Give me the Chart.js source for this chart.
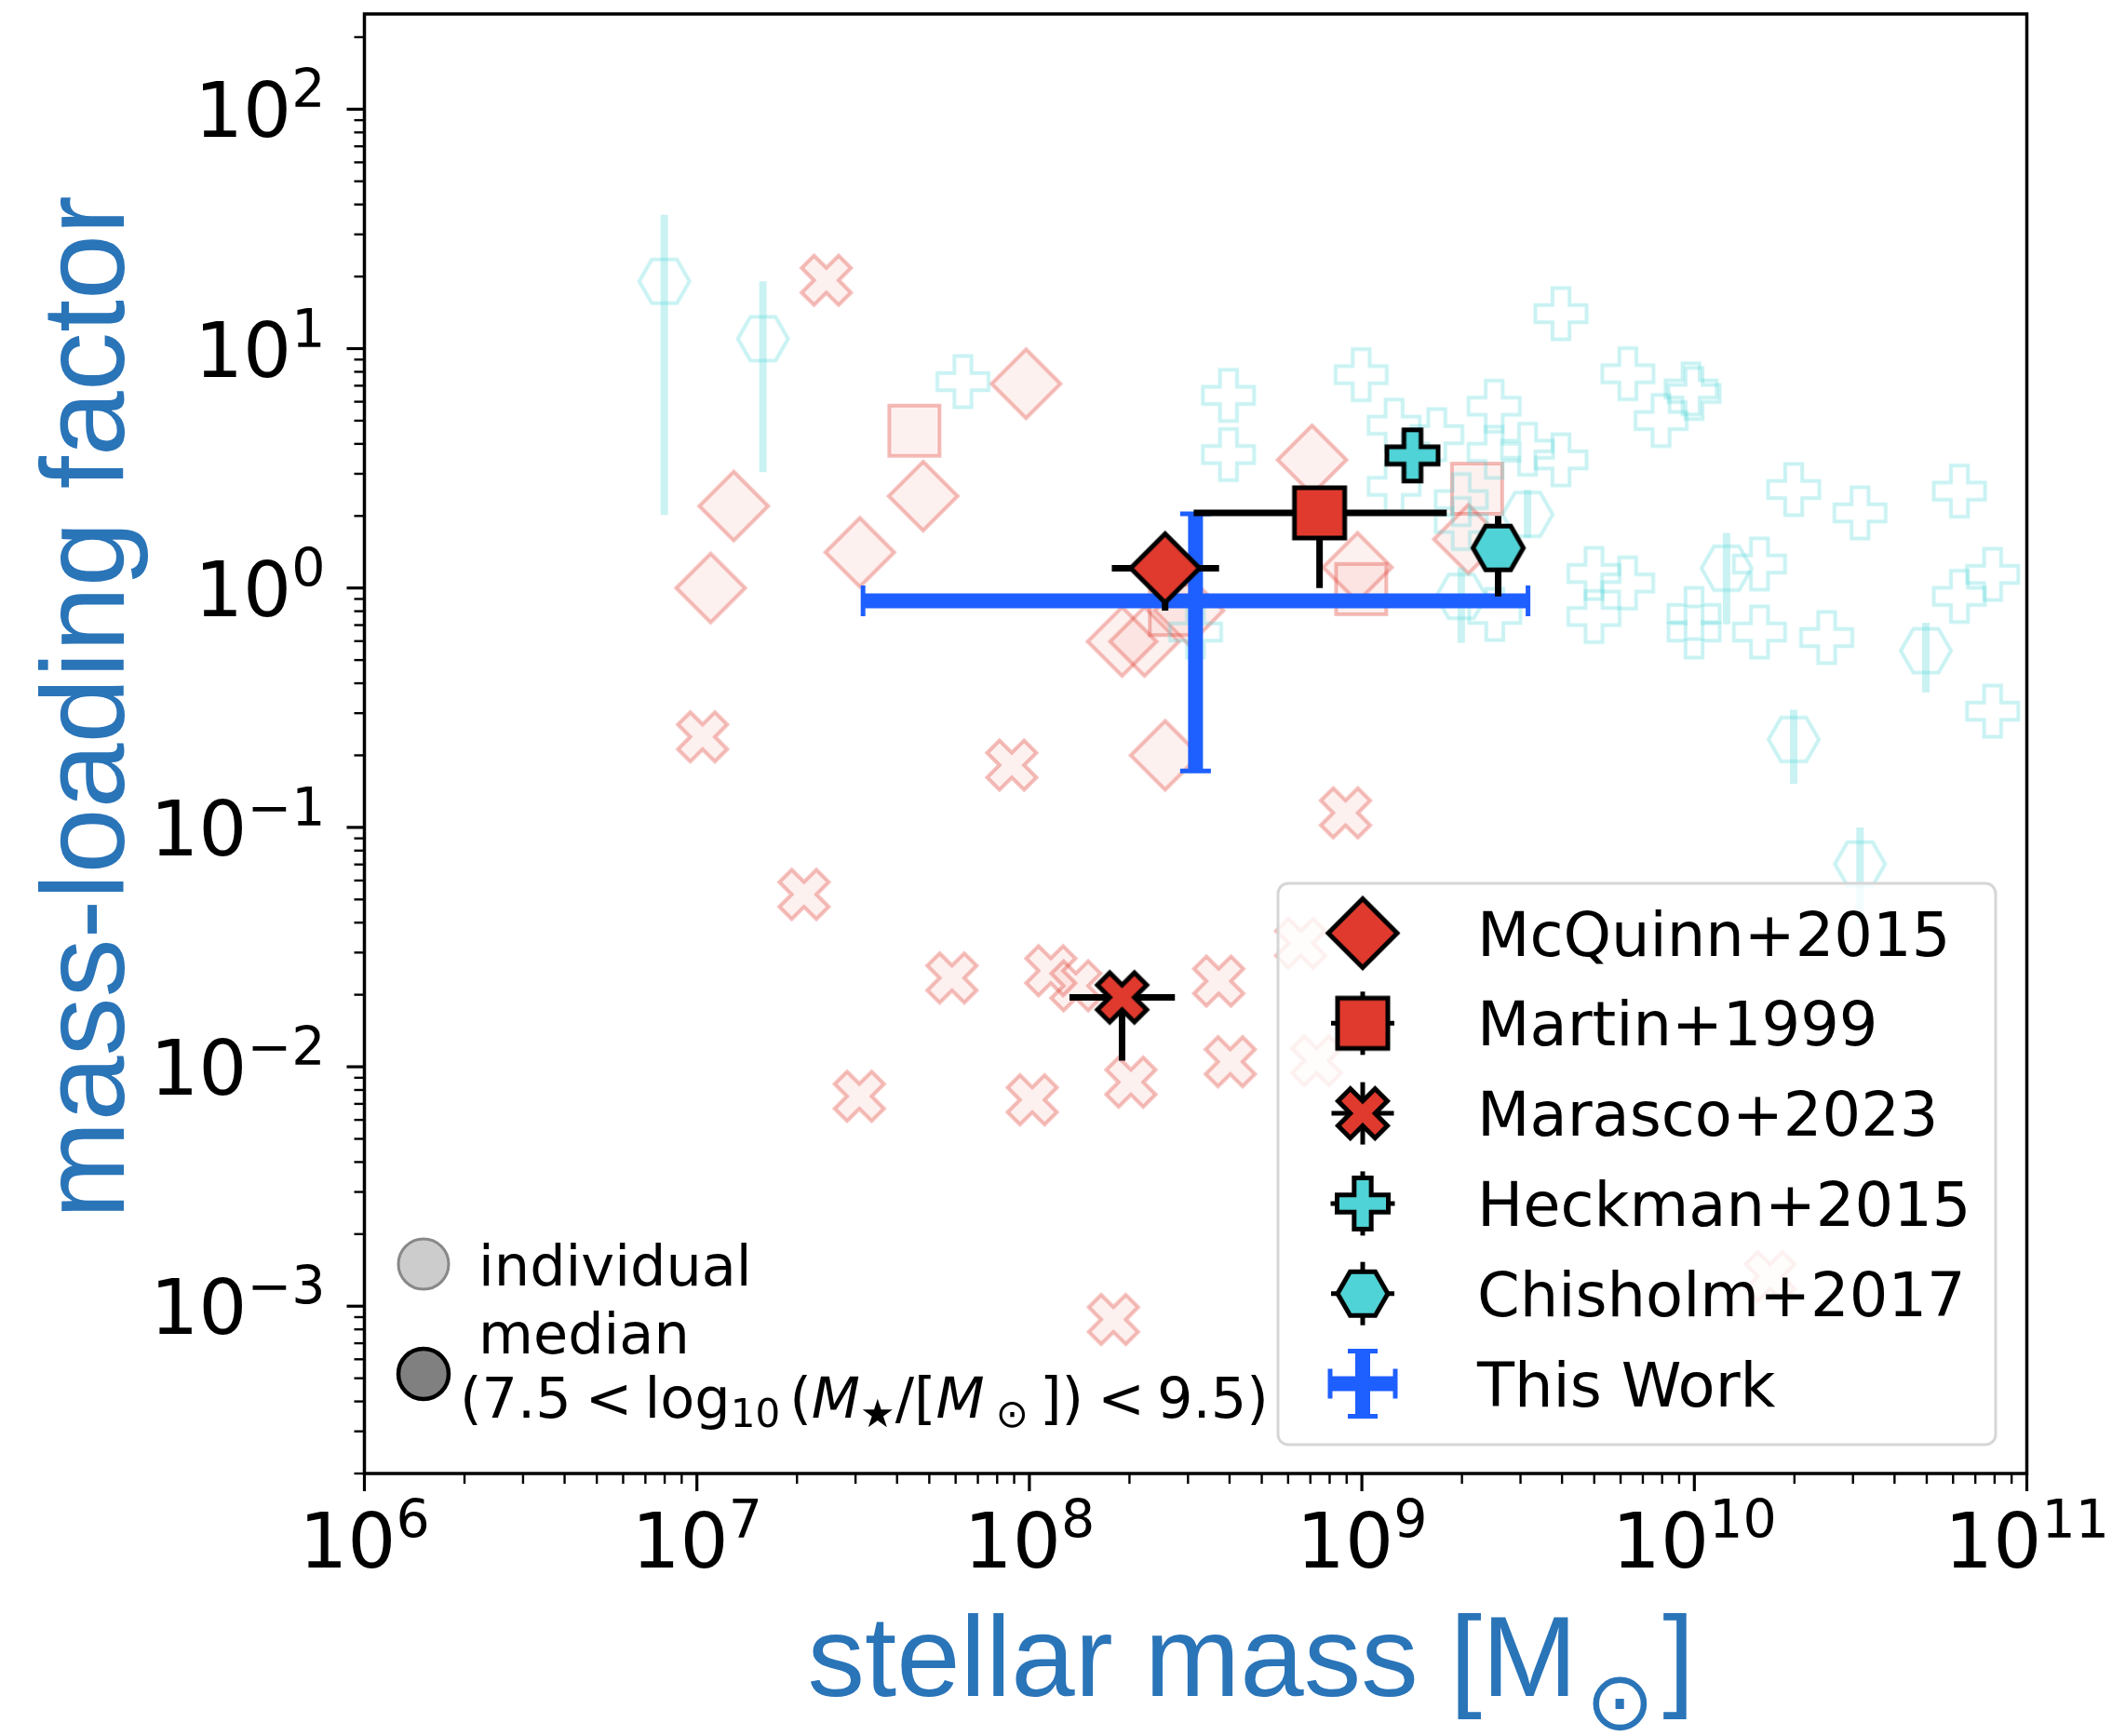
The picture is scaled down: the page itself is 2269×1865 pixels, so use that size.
<!DOCTYPE html>
<html lang="en">
<head>
<meta charset="utf-8">
<title>Mass-loading factor vs stellar mass</title>
<script src="https://cdn.jsdelivr.net/npm/chart.js@4.4.1/dist/chart.umd.min.js"></script>
<style>
  html, body { margin: 0; padding: 0; background: #fff; }
  canvas { display: block; }
</style>
</head>
<body>
<canvas id="chartCanvas" width="2269" height="1865"></canvas>
<script>
"use strict";

// ---- stellar mass [Msun] / mass-loading factor, one pair of arrays per sample ----

// McQuinn+2015 individual galaxies
const mcquinnMass = [1.10e7, 1.29e7, 3.09e7, 4.79e7, 9.77e7, 7.08e8, 9.70e8, 1.90e8, 2.22e8, 2.56e8, 3.02e8, 2.09e9];
const mcquinnEta = [1.00, 2.20, 1.41, 2.42, 7.13, 3.43, 1.22, 0.598, 0.598, 0.200, 0.805, 1.60];

// Martin+1999
const martinMass = [4.51e7, 2.74e8, 9.95e8, 2.22e9];
const martinEta = [4.54, 0.81, 0.99, 2.60];

// Marasco+2023
const marascoMass = [2.45e7, 1.04e7, 8.85e7, 2.10e7, 5.85e7, 1.16e8, 1.38e8, 3.71e8, 3.08e7,
  1.02e8, 2.02e8, 4.02e8, 8.93e8, 1.79e8, 6.55e8, 7.31e8, 1.69e10];
const marascoEta = [19.3, 0.239, 0.182, 0.0525, 0.0235, 0.0252, 0.0218, 0.0228, 0.00753,
  0.00728, 0.00863, 0.0105, 0.115, 0.00088, 0.0328, 0.0106, 0.00133];

// Heckman+2015
const heckmanMass = [6.31e7, 3.97e8, 3.97e8, 3.16e8, 9.95e8, 1.25e9, 1.68e9, 1.25e9, 2.50e9,
  2.50e9, 3.15e9, 3.97e9, 1.99e9, 1.99e9, 2.51e9, 3.97e9, 6.31e9, 7.94e9, 9.98e9, 9.77e9,
  4.99e9, 6.30e9, 4.99e9, 1.99e10, 3.15e10, 6.27e10, 7.89e10, 6.27e10, 7.89e10, 1.57e10,
  1.57e10, 9.98e9, 9.98e9, 2.50e10];
const heckmanEta = [7.28, 6.38, 3.61, 0.655, 7.78, 4.79, 4.37, 2.66, 5.75,
  3.69, 3.80, 3.43, 2.34, 1.86, 0.776, 14.0, 7.85, 5.01, 6.50, 6.79,
  1.15, 1.05, 0.760, 2.58, 2.06, 2.54, 1.14, 0.923, 0.306, 1.26,
  0.655, 0.783, 0.655, 0.621];

// Chisholm+2017, with lower / upper bounds on eta
const chisholmMass = [7.98e6, 1.58e7, 3.15e9, 1.99e9, 1.25e10, 4.97e10, 1.99e10, 3.15e10];
const chisholmEta = [19.1, 11.0, 2.03, 0.923, 1.21, 0.547, 0.233, 0.0703];
const chisholmEtaLow = [2.02, 3.05, 1.62, 0.589, 0.705, 0.366, 0.152, 0.040];
const chisholmEtaHigh = [36.2, 19.1, 2.57, 1.22, 1.70, 0.716, 0.310, 0.100];

// medians of each sample for 7.5 < log10(M*) < 9.5
const medianLabels = ["McQuinn+2015", "Martin+1999", "Marasco+2023", "Heckman+2015", "Chisholm+2017"];
const medianMass = [2.56e8, 7.46e8, 1.90e8, 1.42e9, 2.57e9];
const medianMassLow = [1.77e8, 3.12e8, 1.32e8, 1.33e9, 2.45e9];
const medianMassHigh = [3.72e8, 1.80e9, 2.74e8, 1.52e9, 2.70e9];
const medianEta = [1.21, 2.06, 0.0195, 3.58, 1.47];
const medianEtaLow = [0.805, 1.00, 0.0106, 3.35, 0.923];
const medianEtaHigh = [1.55, 2.50, 0.022, 3.85, 2.00];

// this work
const thisWorkMass = [3.16e8];
const thisWorkMassLow = [3.16e7];
const thisWorkMassHigh = [3.16e9];
const thisWorkEta = [0.884];
const thisWorkEtaLow = [0.172];
const thisWorkEtaHigh = [2.04];

// axis ticks
const xTickValues = [1e6, 1e7, 1e8, 1e9, 1e10, 1e11];
const xTickExponents = ["6", "7", "8", "9", "10", "11"];
const yTickValues = [1e-3, 1e-2, 1e-1, 1e0, 1e1, 1e2];
const yTickExponents = ["\u22123", "\u22122", "\u22121", "0", "1", "2"];

// ---- styles ----
const RED = "rgb(224, 58, 46)";
const CYAN = "rgb(80, 211, 214)";
const BLUE = "rgb(30, 95, 255)";
const RED_EDGE = "rgba(224, 58, 46, 0.34)";
const RED_FACE = "rgba(224, 58, 46, 0.07)";
const CYAN_EDGE = "rgba(80, 211, 214, 0.3)";
const TITLE_BLUE = "#2a74b8";
const SANS = '"DejaVu Sans"';
const TITLE_FONT = '"Liberation Sans"';

const medianShapes = ["diamond", "square", "x", "plus", "hexagon"];
const medianFaces = [RED, RED, RED, CYAN, CYAN];

// half-extent of each marker path, px
const markerHalf = { diamond: 37, square: 27, x: 26.5, plus: 27.5, hexagon: 27 };

let medianMarkers = [];

function tracePath(g, shape, h) {
  g.beginPath();
  let pts = [];
  if (shape === "diamond") {
    pts = [[0, -h], [h, 0], [0, h], [-h, 0]];
  } else if (shape === "square") {
    pts = [[-h, -h], [h, -h], [h, h], [-h, h]];
  } else if (shape === "plus") {
    const a = h / 3;
    pts = [[-a, -h], [a, -h], [a, -a], [h, -a], [h, a], [a, a], [a, h], [-a, h], [-a, a], [-h, a], [-h, -a], [-a, -a]];
  } else if (shape === "x") {
    const u = h / 2;
    pts = [[-1, -2], [0, -1], [1, -2], [2, -1], [1, 0], [2, 1], [1, 2], [0, 1], [-1, 2], [-2, 1], [-1, 0], [-2, -1]]
      .map(([px, py]) => [px * u, py * u]);
  } else if (shape === "hexagon") {
    for (let i = 0; i < 6; i++) {
      const t = i * Math.PI / 3;
      pts.push([h * Math.cos(t), h * Math.sin(t)]);
    }
  }
  pts.forEach(([px, py], i) => (i ? g.lineTo(px, py) : g.moveTo(px, py)));
  g.closePath();
}

// pre-rendered marker used as a Chart.js pointStyle
function makeMarker(shape, face, edge, lineWidth) {
  const h = markerHalf[shape];
  const size = 2 * Math.ceil(h + lineWidth * 1.5 + 3);
  const c = document.createElement("canvas");
  c.width = size;
  c.height = size;
  const g = c.getContext("2d");
  g.translate(size / 2, size / 2);
  g.lineJoin = "miter";
  tracePath(g, shape, h);
  if (face) {
    g.fillStyle = face;
    g.fill();
  }
  g.lineWidth = lineWidth;
  g.strokeStyle = edge;
  g.stroke();
  return c;
}

function toPoints(xs, ys) {
  return xs.map((x, i) => ({ x, y: ys[i] }));
}

function segment(ctx, x0, y0, x1, y1) {
  ctx.beginPath();
  ctx.moveTo(x0, y0);
  ctx.lineTo(x1, y1);
  ctx.stroke();
}

// error bars drawn just under each dataset's markers
const errorBarPlugin = {
  id: "errorBars",
  beforeDatasetDraw(chart, args) {
    const ds = chart.data.datasets[args.index];
    const eb = ds.errorBars;
    if (!eb) return;
    const { ctx, chartArea: area, scales: { x, y } } = chart;
    ctx.save();
    ctx.beginPath();
    ctx.rect(area.left, area.top, area.right - area.left, area.bottom - area.top);
    ctx.clip();
    ctx.strokeStyle = eb.color;
    ctx.lineCap = "butt";
    ds.data.forEach((p, i) => {
      const px = x.getPixelForValue(p.x);
      const py = y.getPixelForValue(p.y);
      ctx.lineWidth = eb.width;
      let xl, xh, yl, yh;
      if (eb.xLow) {
        xl = x.getPixelForValue(eb.xLow[i]);
        xh = x.getPixelForValue(eb.xHigh[i]);
        segment(ctx, xl, py, xh, py);
      }
      if (eb.yLow) {
        yl = y.getPixelForValue(eb.yLow[i]);
        yh = y.getPixelForValue(eb.yHigh[i]);
        segment(ctx, px, yl, px, yh);
      }
      if (eb.cap) {
        const c = eb.cap / 2;
        ctx.lineWidth = eb.capWidth;
        if (eb.xLow) {
          segment(ctx, xl, py - c, xl, py + c);
          segment(ctx, xh, py - c, xh, py + c);
        }
        if (eb.yLow) {
          segment(ctx, px - c, yl, px + c, yl);
          segment(ctx, px - c, yh, px + c, yh);
        }
      }
    });
    ctx.restore();
  }
};

function minorTickValues(scale) {
  const out = [];
  const lo = Math.floor(Math.log10(scale.min));
  const hi = Math.ceil(Math.log10(scale.max));
  for (let e = lo; e <= hi; e++) {
    for (let m = 2; m <= 9; m++) {
      const v = m * Math.pow(10, e);
      if (v >= scale.min * 0.999 && v <= scale.max * 1.001) out.push(v);
    }
  }
  return out;
}

const TICK_SIZE = 82;
const SUP_SIZE = 57;

function drawPower(ctx, exponent, x, baseline, align) {
  ctx.font = `${TICK_SIZE}px ${SANS}`;
  const wBase = ctx.measureText("10").width;
  ctx.font = `${SUP_SIZE}px ${SANS}`;
  const wExp = ctx.measureText(exponent).width;
  const total = wBase + wExp;
  const left = align === "center" ? x - total / 2 : x - total;
  ctx.textAlign = "left";
  ctx.textBaseline = "alphabetic";
  ctx.font = `${TICK_SIZE}px ${SANS}`;
  ctx.fillText("10", left, baseline);
  ctx.font = `${SUP_SIZE}px ${SANS}`;
  ctx.fillText(exponent, left + wBase, baseline - 32);
}

// spines, log ticks, tick labels and axis titles
const axesFramePlugin = {
  id: "axesFrame",
  afterDatasetsDraw(chart) {
    const { ctx, chartArea: a, scales: { x, y } } = chart;
    ctx.save();
    ctx.strokeStyle = "#000";
    ctx.lineCap = "butt";

    ctx.lineWidth = 2.4;
    minorTickValues(x).forEach(v => {
      const p = x.getPixelForValue(v);
      segment(ctx, p, a.bottom, p, a.bottom + 11);
    });
    minorTickValues(y).forEach(v => {
      const p = y.getPixelForValue(v);
      segment(ctx, a.left, p, a.left - 11, p);
    });

    ctx.lineWidth = 3.2;
    xTickValues.forEach(v => {
      const p = x.getPixelForValue(v);
      segment(ctx, p, a.bottom, p, a.bottom + 19);
    });
    yTickValues.forEach(v => {
      const p = y.getPixelForValue(v);
      segment(ctx, a.left, p, a.left - 19, p);
    });

    ctx.lineWidth = 3.5;
    ctx.strokeRect(a.left, a.top, a.right - a.left, a.bottom - a.top);

    ctx.fillStyle = "#000";
    xTickValues.forEach((v, i) => {
      drawPower(ctx, xTickExponents[i], x.getPixelForValue(v), a.bottom + 101, "center");
    });
    yTickValues.forEach((v, i) => {
      drawPower(ctx, yTickExponents[i], a.left - 42, y.getPixelForValue(v) + 30, "right");
    });

    // y title
    ctx.fillStyle = TITLE_BLUE;
    ctx.font = `126px ${TITLE_FONT}`;
    ctx.save();
    ctx.translate(133, a.top + (a.bottom - a.top) * 0.475);
    ctx.rotate(-Math.PI / 2);
    ctx.textAlign = "center";
    ctx.fillText("mass-loading factor", 0, 0);
    ctx.restore();

    // x title with a subscript sun symbol
    const mainFont = `123px ${TITLE_FONT}`;
    const subFont = `88px ${SANS}`;
    ctx.font = mainFont;
    const w1 = ctx.measureText("stellar mass [M").width;
    const w3 = ctx.measureText("]").width;
    ctx.font = subFont;
    const w2 = ctx.measureText("\u2299").width;
    const gap = 9;
    const total = w1 + gap + w2 + gap + w3;
    const cx = a.left + (a.right - a.left) * 0.5333;
    let left = cx - total / 2;
    const base = 1822;
    ctx.textAlign = "left";
    ctx.font = mainFont;
    ctx.fillText("stellar mass [M", left, base);
    left += w1 + gap;
    ctx.font = subFont;
    ctx.fillText("\u2299", left, base + 36);
    left += w2 + gap;
    ctx.font = mainFont;
    ctx.fillText("]", left, base);
    ctx.restore();
  }
};

function roundRect(ctx, x, y, w, h, r) {
  ctx.beginPath();
  ctx.moveTo(x + r, y);
  ctx.arcTo(x + w, y, x + w, y + h, r);
  ctx.arcTo(x + w, y + h, x, y + h, r);
  ctx.arcTo(x, y + h, x, y, r);
  ctx.arcTo(x, y, x + w, y, r);
  ctx.closePath();
}

const LEGEND_SIZE = 65.5;
const NOTE_SIZE = 60.5;

// parts of the second line of the "median" note
const rangeParts = [
  { t: "(7.5", f: "reg" },
  { t: "<", f: "reg", pad: 15 },
  { t: "log", f: "reg", pad: 13 },
  { t: "10", f: "sub" },
  { t: "(", f: "reg", pad: 10 },
  { t: "M", f: "ital" },
  { t: "\u2605", f: "sub" },
  { t: "/[", f: "reg" },
  { t: "M", f: "ital" },
  { t: "\u2299", f: "sub", pad: 12 },
  { t: "])", f: "reg", pad: 12 },
  { t: "<", f: "reg", pad: 15 },
  { t: "9.5)", f: "reg", pad: 13 }
];

const legendPlugin = {
  id: "sampleLegends",
  afterDraw(chart) {
    const ctx = chart.ctx;
    ctx.save();

    // sample legend (upper box)
    roundRect(ctx, 1373, 949, 771, 603, 11);
    ctx.fillStyle = "rgba(255, 255, 255, 0.8)";
    ctx.fill();
    ctx.lineWidth = 3;
    ctx.strokeStyle = "#d6d6d6";
    ctx.stroke();

    const mx = 1464;
    const rowY = i => 1002.5 + i * 96.8;
    const labels = medianLabels.concat(["This Work"]);
    labels.forEach((label, i) => {
      const cy = rowY(i);
      if (i < medianMarkers.length) {
        if (i > 0) {
          ctx.strokeStyle = "#000";
          ctx.lineWidth = 5;
          const r = markerHalf[medianShapes[i]] + 7;
          segment(ctx, mx, cy - r, mx, cy + r);
          segment(ctx, mx - r, cy, mx + r, cy);
        }
        const m = medianMarkers[i];
        ctx.drawImage(m, mx - m.width / 2, cy - m.height / 2);
      } else {
        ctx.strokeStyle = BLUE;
        ctx.lineWidth = 16;
        segment(ctx, mx - 35, cy, mx + 35, cy);
        segment(ctx, mx, cy - 35, mx, cy + 35);
        ctx.lineWidth = 5;
        segment(ctx, mx - 35, cy - 16, mx - 35, cy + 16);
        segment(ctx, mx + 35, cy - 16, mx + 35, cy + 16);
        segment(ctx, mx - 16, cy - 35, mx + 16, cy - 35);
        segment(ctx, mx - 16, cy + 35, mx + 16, cy + 35);
      }
      ctx.fillStyle = "#000";
      ctx.font = `${LEGEND_SIZE}px ${SANS}`;
      ctx.textAlign = "left";
      ctx.textBaseline = "alphabetic";
      ctx.fillText(label, 1587, cy + 24);
    });

    // individual / median note (lower left, no frame)
    ctx.lineWidth = 3;
    ctx.beginPath();
    ctx.arc(455, 1358, 27, 0, Math.PI * 2);
    ctx.fillStyle = "#cccccc";
    ctx.fill();
    ctx.strokeStyle = "#888888";
    ctx.stroke();

    ctx.lineWidth = 4.5;
    ctx.beginPath();
    ctx.arc(455, 1476, 27, 0, Math.PI * 2);
    ctx.fillStyle = "#808080";
    ctx.fill();
    ctx.strokeStyle = "#000";
    ctx.stroke();

    ctx.fillStyle = "#000";
    ctx.textAlign = "left";
    ctx.textBaseline = "alphabetic";
    ctx.font = `${NOTE_SIZE}px ${SANS}`;
    ctx.fillText("individual", 514, 1381);
    ctx.fillText("median", 514, 1454);

    const fonts = {
      reg: `${NOTE_SIZE}px ${SANS}`,
      ital: `italic ${NOTE_SIZE}px ${SANS}`,
      sub: `${Math.round(NOTE_SIZE * 0.7)}px ${SANS}`
    };
    let px = 494;
    const base = 1523;
    rangeParts.forEach(part => {
      px += part.pad || 0;
      ctx.font = fonts[part.f];
      ctx.fillText(part.t, px, part.f === "sub" ? base + 10 : base);
      px += ctx.measureText(part.t).width;
    });

    ctx.restore();
  }
};

function buildChart() {
  const canvas = document.querySelector("#chartCanvas");
  const ctx = canvas.getContext("2d");

  const fadedRed = shape => makeMarker(shape, RED_FACE, RED_EDGE, 4);
  const fadedCyan = shape => makeMarker(shape, null, CYAN_EDGE, 4);
  medianMarkers = medianShapes.map((s, i) => makeMarker(s, medianFaces[i], "#000", 5));

  const datasets = [
    {
      label: "McQuinn+2015 individual",
      data: toPoints(mcquinnMass, mcquinnEta),
      pointStyle: fadedRed("diamond"),
      order: 20
    },
    {
      label: "Martin+1999 individual",
      data: toPoints(martinMass, martinEta),
      pointStyle: fadedRed("square"),
      order: 19
    },
    {
      label: "Marasco+2023 individual",
      data: toPoints(marascoMass, marascoEta),
      pointStyle: fadedRed("x"),
      order: 18
    },
    {
      label: "Heckman+2015 individual",
      data: toPoints(heckmanMass, heckmanEta),
      pointStyle: fadedCyan("plus"),
      order: 17
    },
    {
      label: "Chisholm+2017 individual",
      data: toPoints(chisholmMass, chisholmEta),
      pointStyle: fadedCyan("hexagon"),
      errorBars: { yLow: chisholmEtaLow, yHigh: chisholmEtaHigh, color: CYAN_EDGE, width: 8 },
      order: 16
    },
    {
      label: "This Work",
      data: toPoints(thisWorkMass, thisWorkEta),
      pointRadius: 0,
      errorBars: {
        xLow: thisWorkMassLow, xHigh: thisWorkMassHigh,
        yLow: thisWorkEtaLow, yHigh: thisWorkEtaHigh,
        color: BLUE, width: 16, cap: 33, capWidth: 5
      },
      order: 10
    }
  ];

  medianLabels.forEach((label, i) => {
    datasets.push({
      label,
      data: [{ x: medianMass[i], y: medianEta[i] }],
      pointStyle: medianMarkers[i],
      errorBars: {
        xLow: [medianMassLow[i]], xHigh: [medianMassHigh[i]],
        yLow: [medianEtaLow[i]], yHigh: [medianEtaHigh[i]],
        color: "#000", width: 7
      },
      order: 5 - i
    });
  });

  datasets.forEach(ds => {
    if (ds.pointRadius === undefined) ds.pointRadius = 2;
    ds.pointHoverRadius = ds.pointRadius;
  });

  new Chart(ctx, {
    type: "scatter",
    data: { datasets },
    options: {
      responsive: false,
      animation: false,
      devicePixelRatio: 1,
      events: [],
      layout: {
        padding: { left: 391.5, right: 2269 - 2177.5, top: 15, bottom: 1865 - 1583 }
      },
      plugins: {
        legend: { display: false },
        tooltip: { enabled: false }
      },
      scales: {
        x: { type: "logarithmic", min: 1e6, max: 1e11, display: false },
        y: { type: "logarithmic", min: 2e-4, max: 250, display: false }
      }
    },
    plugins: [errorBarPlugin, axesFramePlugin, legendPlugin]
  });
}

document.addEventListener("DOMContentLoaded", () => {
  Promise.all([
    document.fonts.load(`80px ${SANS}`),
    document.fonts.load(`italic 59px ${SANS}`),
    document.fonts.load(`126px ${TITLE_FONT}`)
  ]).catch(() => null).then(buildChart);
});
</script>
</body>
</html>
